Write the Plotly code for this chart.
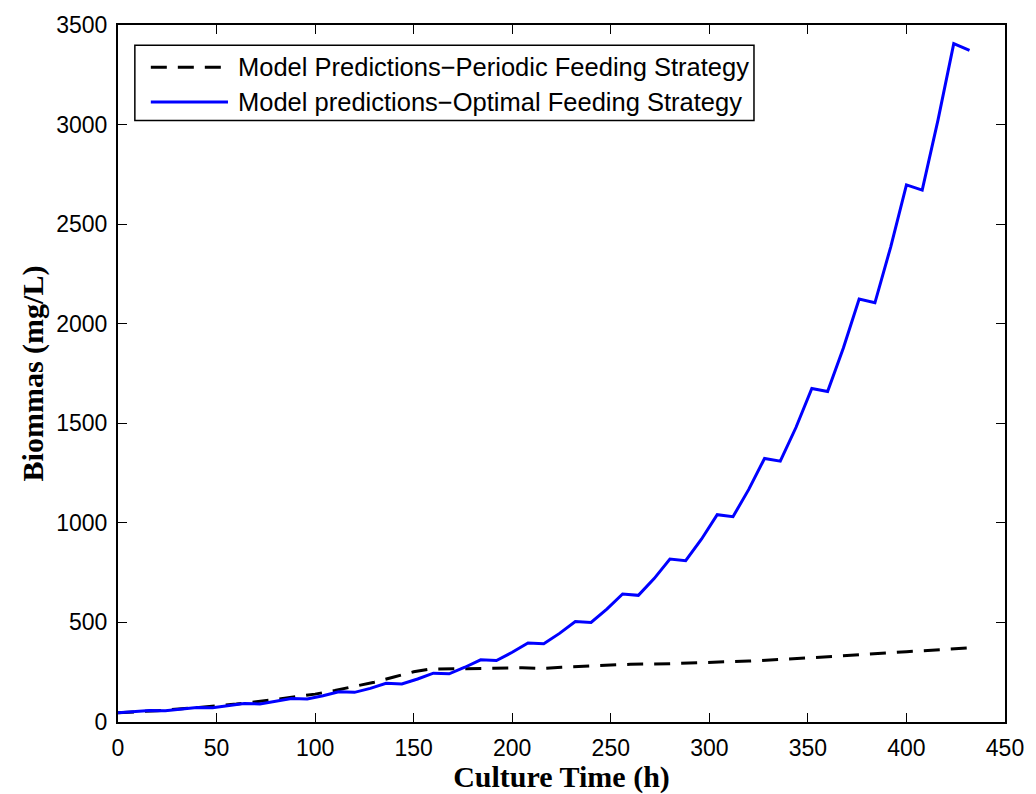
import plotly.graph_objects as go

# Culture time grid (h) and simulated biomass (mg/L)
time_optimal = [0, 8, 16, 24, 32, 40, 48, 56, 64, 72, 80, 88, 96, 104, 112, 120,
                128, 136, 144, 152, 160, 168, 176, 184, 192, 200, 208, 216, 224,
                232, 240, 248, 256, 264, 272, 280, 288, 296, 304, 312, 320, 328,
                336, 344, 352, 360, 368, 376, 384, 392, 400, 408, 416, 424, 432]
biomass_optimal = [46, 52, 58, 57, 64, 73, 72, 81, 93, 91, 103, 118, 116, 132, 152,
                   149, 169, 194, 191, 216, 245, 242, 275, 312, 309, 350, 397, 393,
                   445, 505, 500, 567, 643, 636, 720, 818, 810, 918, 1041, 1031, 1168,
                   1323, 1310, 1480, 1675, 1660, 1878, 2124, 2105, 2385, 2697, 2671,
                   3022, 3406, 3372]

time_periodic = [0, 20, 40, 50, 60, 80, 100, 110, 120, 130, 140, 150, 158, 170,
                 190, 205, 215, 225, 240, 260, 280, 300, 320, 340, 360, 380, 400,
                 420, 432]
biomass_periodic = [46, 57, 72, 80, 90, 113, 140, 158, 178, 200, 226, 252, 265, 268,
                    270, 272, 269, 275, 282, 290, 293, 299, 306, 316, 327, 340, 353,
                    365, 372]

name_periodic = "Model Predictions\u2212Periodic Feeding Strategy"
name_optimal = "Model predictions\u2212Optimal Feeding Strategy"

x_ticks = [0, 50, 100, 150, 200, 250, 300, 350, 400, 450]
y_ticks = [0, 500, 1000, 1500, 2000, 2500, 3000, 3500]

fig = go.Figure()
fig.add_trace(go.Scatter(x=time_periodic, y=biomass_periodic, mode="lines",
                         name=name_periodic, showlegend=False,
                         line=dict(color="black", width=3, dash="16px,11px")))
fig.add_trace(go.Scatter(x=time_optimal, y=biomass_optimal, mode="lines",
                         name=name_optimal, showlegend=False,
                         line=dict(color="#0000FF", width=3)))

tick_font = dict(family="Liberation Sans, Arial, sans-serif", size=23, color="black")
title_font = dict(family="Liberation Serif, Times New Roman, serif", size=30, color="black")

axis_common = dict(showline=True, linecolor="black", linewidth=2, mirror="ticks",
                   ticks="inside", ticklen=9, tickwidth=1.2, tickcolor="black",
                   showgrid=False, zeroline=False, tickfont=tick_font)

fig.update_xaxes(range=[0, 450], tickvals=x_ticks, ticklabelstandoff=4,
                 title=dict(text="<b>Culture Time (h)</b>", font=title_font, standoff=0),
                 **axis_common)
fig.update_yaxes(range=[0, 3500], tickvals=y_ticks, ticklabelstandoff=4,
                 title=dict(text="<b>Biommas (mg/L)</b>", font=title_font, standoff=4),
                 **axis_common)

# Boxed legend with long line samples
legend_font = dict(family="Liberation Sans, Arial, sans-serif", size=25.5, color="black")
lx0, lx1, ly0, ly1 = 0.019, 0.717, 0.863, 0.971
row_y = [0.9395, 0.8895]
sample_x = [0.037, 0.124]
fig.add_shape(type="rect", xref="paper", yref="paper", x0=lx0, x1=lx1, y0=ly0, y1=ly1,
              line=dict(color="black", width=1.5), fillcolor="white", layer="above")
legend_rows = [(name_periodic, "black", "16px,11px"), (name_optimal, "#0000FF", "solid")]
for (label, color, dash), yy in zip(legend_rows, row_y):
    fig.add_shape(type="line", xref="paper", yref="paper", x0=sample_x[0], x1=sample_x[1],
                  y0=yy, y1=yy, line=dict(color=color, width=3, dash=dash), layer="above")
    fig.add_annotation(xref="paper", yref="paper", x=0.1325, y=yy, text=label,
                       showarrow=False, xanchor="left", yanchor="middle", font=legend_font)

fig.update_layout(width=1036, height=794, plot_bgcolor="white", paper_bgcolor="white",
                  margin=dict(l=118, r=26, t=21, b=71), showlegend=False)

fig.write_html("out.html")
